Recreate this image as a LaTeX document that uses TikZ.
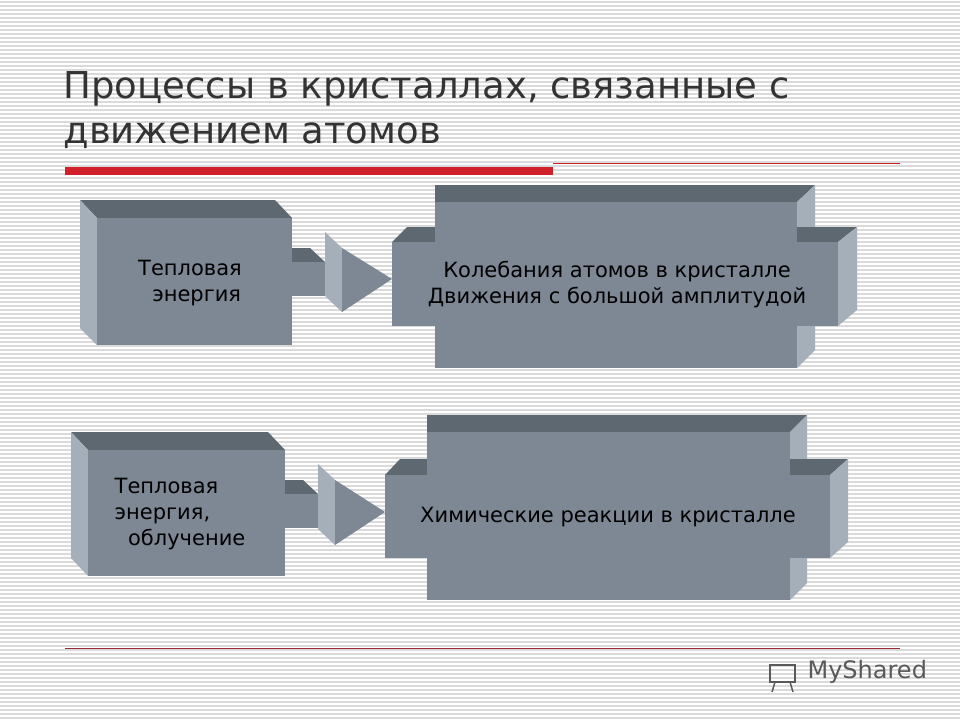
\documentclass[tikz,border=0pt]{standalone}
\usepackage{fontspec}
\setmainfont{DejaVu Sans}
\definecolor{frontc}{HTML}{7D8894}
\definecolor{topc}{HTML}{5E6870}
\definecolor{sidec}{HTML}{A5AFBA}
\definecolor{stripec}{HTML}{DADADA}
\definecolor{barred}{HTML}{D0202A}
\definecolor{linered}{HTML}{9A2A35}

\begin{document}
\begin{tikzpicture}[x=1pt,y=-1pt,
    front/.style={fill=frontc},
    topface/.style={fill=topc},
    sideface/.style={fill=sidec},
    label/.style={font=\fontsize{21}{26}\selectfont, align=center, text=black}]

\useasboundingbox (0,0) rectangle (960,720);
\fill[white] (0,0) rectangle (960,720);
\foreach \y in {2,6,...,718}
    \draw[stripec, line width=1.2pt] (0,\y) -- (960,\y);

% title
\node[anchor=north west, align=left, text=black!80, font=\fontsize{37}{45}\selectfont]
    (title) at (60,68) {Процессы в кристаллах, связанные с\\движением атомов};
\fill[barred] (65,167) rectangle (553,175);
\draw[barred, line width=0.8pt] (553,163) -- (900,163);
\draw[linered, line width=0.8pt] (65,648) -- (900,648);

% upper row
\fill[topface] (80,200) -- (275,200) -- (292,218) -- (97,218) -- cycle;
\fill[sideface] (80,200) -- (97,218) -- (97,345) -- (80,328) -- cycle;
\fill[front] (97,218) rectangle (292,345);
\node[label] (heat) at (190,283) {Тепловая\\\ \ энергия};

\fill[topface] (292,248) -- (310,248) -- (325,262) -- (292,262) -- cycle;
\fill[front] (292,262) rectangle (325,296);
\fill[sideface] (325,232) -- (342,248) -- (342,312) -- (325,296) -- cycle;
\fill[front] (342,248) -- (392,279) -- (342,312) -- cycle;

\fill[topface] (435,185) -- (815,185) -- (797,202) -- (435,202) -- cycle;
\fill[sideface] (797,202) -- (815,185) -- (815,350) -- (797,368) -- cycle;
\fill[topface] (392,242) -- (407,227) -- (857,227) -- (838,242) -- cycle;
\fill[sideface] (838,242) -- (857,227) -- (857,310) -- (838,326) -- cycle;
\fill[front] (435,202) rectangle (797,368);
\fill[front] (392,242) rectangle (838,326);
\node[label] (vibr) at (617,285) {Колебания атомов в кристалле\\Движения с большой амплитудой};

% lower row
\fill[topface] (71,432) -- (268,432) -- (285,450) -- (88,450) -- cycle;
\fill[sideface] (71,432) -- (88,450) -- (88,576) -- (71,558) -- cycle;
\fill[front] (88,450) rectangle (285,576);
\node[label, align=left] (heat2) at (180,514) {Тепловая\\энергия,\\\ \ облучение};

\fill[topface] (285,480) -- (303,480) -- (318,494) -- (285,494) -- cycle;
\fill[front] (285,494) rectangle (318,528);
\fill[sideface] (318,464) -- (335,480) -- (335,545) -- (318,529) -- cycle;
\fill[front] (335,480) -- (385,512) -- (335,545) -- cycle;

\fill[topface] (427,415) -- (807,415) -- (790,432) -- (427,432) -- cycle;
\fill[sideface] (790,432) -- (807,415) -- (807,583) -- (790,600) -- cycle;
\fill[topface] (385,475) -- (400,459) -- (848,459) -- (830,475) -- cycle;
\fill[sideface] (830,475) -- (848,459) -- (848,542) -- (830,558) -- cycle;
\fill[front] (427,432) rectangle (790,600);
\fill[front] (385,475) rectangle (830,558);
\node[label] (chem) at (608,517) {Химические реакции в кристалле};

% logo
\node[anchor=west, text=black!65, font=\fontsize{24}{28}\selectfont] (logo) at (804,672) {MyShared};
\draw[black!65, line width=1.5pt] (770,665) rectangle (795,682);
\draw[black!65, line width=1.5pt] (775,682) -- (772,692) (790,682) -- (793,692);
\end{tikzpicture}
\end{document}
